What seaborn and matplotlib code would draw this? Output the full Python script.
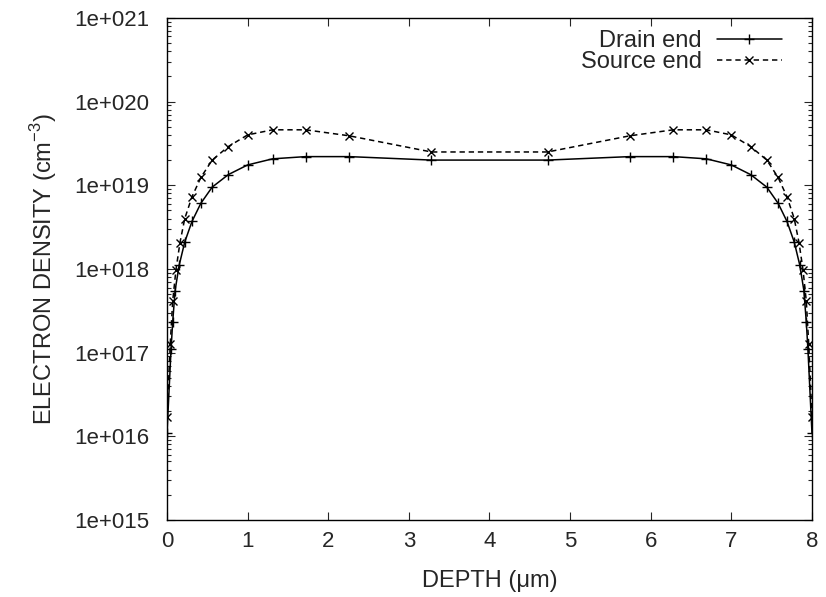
import numpy as np
import pandas as pd
import seaborn as sns
import matplotlib
matplotlib.use('Agg')
import matplotlib.pyplot as plt
from matplotlib.ticker import FuncFormatter, LogLocator, MultipleLocator

# depth (um) and electron density (cm^-3)
drain_depth = [0.0, 0.05, 0.07, 0.10, 0.15, 0.22, 0.31, 0.42, 0.56, 0.76, 1.0, 1.31, 1.72, 2.26,
               3.28, 4.72, 5.74, 6.28, 6.69, 7.0, 7.24, 7.44, 7.58, 7.69, 7.78, 7.85, 7.90, 7.93, 7.95, 8.0]
drain_density = [1.1e16, 1.1e17, 2.3e17, 5.5e17, 1.1e18, 2.1e18, 3.7e18, 6.1e18, 9.5e18, 1.34e19,
                 1.75e19, 2.07e19, 2.2e19, 2.2e19, 2.0e19, 2.0e19, 2.2e19, 2.2e19, 2.07e19, 1.75e19,
                 1.34e19, 9.5e18, 6.1e18, 3.7e18, 2.1e18, 1.1e18, 5.5e17, 2.3e17, 1.1e17, 1.1e16]

source_depth = [0.0, 0.04, 0.07, 0.11, 0.16, 0.22, 0.31, 0.42, 0.56, 0.76, 1.0, 1.31, 1.72, 2.26,
                3.28, 4.72, 5.74, 6.28, 6.69, 7.0, 7.24, 7.44, 7.58, 7.69, 7.78, 7.84, 7.89, 7.93, 7.96, 8.0]
source_density = [1.7e16, 1.26e17, 4.1e17, 9.6e17, 2.05e18, 4.0e18, 7.3e18, 1.24e19, 2.0e19, 2.9e19,
                  4.0e19, 4.6e19, 4.6e19, 3.9e19, 2.5e19, 2.5e19, 3.9e19, 4.6e19, 4.6e19, 4.0e19,
                  2.9e19, 2.0e19, 1.24e19, 7.3e18, 4.0e18, 2.05e18, 9.6e17, 4.1e17, 1.26e17, 1.7e16]

drain = pd.DataFrame({'depth': drain_depth, 'density': drain_density})
source = pd.DataFrame({'depth': source_depth, 'density': source_density})

sns.set_style('ticks')
plt.rcParams['font.family'] = ['Liberation Sans', 'DejaVu Sans']
plt.rcParams['mathtext.fontset'] = 'custom'
plt.rcParams['mathtext.rm'] = 'Liberation Sans'

fig = plt.figure(figsize=(8.26, 5.97), dpi=100)
ax = fig.add_axes([0.2022, 0.129, 0.7808, 0.841])

sns.lineplot(x='depth', y='density', data=drain, ax=ax, color='black', linewidth=1.1,
             marker='+', markersize=7, markeredgewidth=1.0, markeredgecolor='black',
             label='Drain end', sort=False)
sns.lineplot(x='depth', y='density', data=source, ax=ax, color='black', linewidth=1.1,
             linestyle=(0, (3.5, 2.5)), marker='x', markersize=6, markeredgewidth=1.0,
             markeredgecolor='black', label='Source end', sort=False)

ax.set_yscale('log')
ax.set_xlim(0, 8)
ax.set_ylim(1e15, 1e21)
ax.xaxis.set_major_locator(MultipleLocator(1))
ax.yaxis.set_major_locator(LogLocator(base=10, numticks=10))
ax.yaxis.set_minor_locator(LogLocator(base=10, subs=np.arange(2, 10), numticks=100))
ax.yaxis.set_minor_formatter(FuncFormatter(lambda v, p: ''))
ax.yaxis.set_major_formatter(FuncFormatter(lambda v, p: '1e+%03d' % int(round(np.log10(v)))))

ax.tick_params(which='both', direction='in', top=True, right=True, labelsize=16, width=0.8)
ax.tick_params(which='major', length=6)
ax.tick_params(axis='x', which='major', pad=8)
ax.tick_params(axis='y', which='major', pad=13)
ax.tick_params(which='minor', length=3)
for s in ax.spines.values():
    s.set_linewidth(1.0)
    s.set_color('black')

ax.set_xlabel('DEPTH (\u03bcm)', fontsize=17, labelpad=13)
ax.set_ylabel('ELECTRON DENSITY (cm$^{\\mathregular{-3}}$)', fontsize=17, labelpad=11)

leg = ax.legend(loc='upper right', bbox_to_anchor=(1 - 30 / 645, 1 - 12 / 502),
                frameon=False, markerfirst=False, fontsize=17, borderpad=0, borderaxespad=0,
                handlelength=2.75, numpoints=1, labelspacing=-0.03, handletextpad=0.64)

plt.savefig('out.png', dpi=100)
